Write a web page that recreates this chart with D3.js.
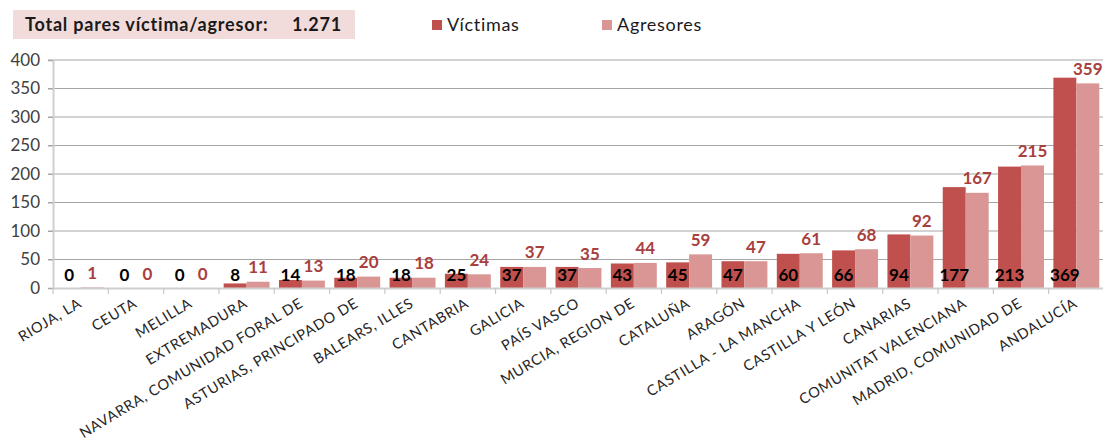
<!DOCTYPE html>
<html><head><meta charset="utf-8">
<script src="https://cdn.jsdelivr.net/npm/d3@7"></script>
<style>body{margin:0;background:#fff;} svg{display:block;font-family:Lato,"Noto Sans",sans-serif;}</style>
</head><body>
<svg id="c" width="1103" height="444"></svg>
<script>
const categories = ["RIOJA, LA","CEUTA","MELILLA","EXTREMADURA","NAVARRA, COMUNIDAD FORAL DE","ASTURIAS, PRINCIPADO DE","BALEARS, ILLES","CANTABRIA","GALICIA","PAÍS VASCO","MURCIA, REGION DE","CATALUÑA","ARAGÓN","CASTILLA - LA MANCHA","CASTILLA Y LEÓN","CANARIAS","COMUNITAT VALENCIANA","MADRID, COMUNIDAD DE","ANDALUCÍA"];
const victimas = [0,0,0,8,14,18,18,25,37,37,43,45,47,60,66,94,177,213,369];
const agresores = [1,0,0,11,13,20,18,24,37,35,44,59,47,61,68,92,167,215,359];
const yTicks = [0,50,100,150,200,250,300,350,400];
const seriesNames = ["Víctimas","Agresores"];
const titleText = "Total pares víctima/agresor:";
const totalText = "1.271";

(function(){
const colV = "#c0504d", colA = "#d99694", colALabel = "#a8403e";
const svg = d3.select("#c");
const mL = 53, mR = 1104, mT = 60, mB = 288;

const x0 = d3.scaleBand().domain(categories).range([mL, mR]).paddingInner(0.17).paddingOuter(0.085);
const x1 = d3.scaleBand().domain(seriesNames).range([0, x0.bandwidth()]);
const y = d3.scaleLinear().domain([0, 400]).range([mB, mT]);

svg.append("g").selectAll("line").data(yTicks.filter(d => d > 0)).join("line")
  .attr("x1", mL - 5).attr("x2", mR).attr("y1", d => y(d)).attr("y2", d => y(d))
  .attr("stroke", "#a6a6a6").attr("stroke-width", 1);

const yAxis = d3.axisLeft(y).tickValues(yTicks).tickSize(5).tickPadding(8);
const gy = svg.append("g").attr("transform", `translate(${mL},0)`).call(yAxis);
gy.select(".domain").attr("stroke", "#d0d0d0").attr("stroke-width", 2);
gy.selectAll(".tick line").attr("stroke", "#a6a6a6");
gy.selectAll("text").attr("font-size", 17).attr("fill", "#404040").attr("font-family", "Lato, sans-serif");

const groups = svg.append("g").selectAll("g").data(categories).join("g")
  .attr("transform", d => `translate(${x0(d)},0)`);
groups.append("rect").attr("x", x1("Víctimas")).attr("width", x1.bandwidth())
  .attr("y", (d, i) => y(victimas[i])).attr("height", (d, i) => y(0) - y(victimas[i])).attr("fill", colV);
groups.append("rect").attr("x", x1("Agresores")).attr("width", x1.bandwidth())
  .attr("y", (d, i) => y(agresores[i])).attr("height", (d, i) => y(0) - y(agresores[i])).attr("fill", colA);

const xAxis = d3.axisBottom(x0).tickSize(0).tickFormat("");
const gx = svg.append("g").attr("transform", `translate(0,${mB})`).call(xAxis);
gx.select(".domain").attr("stroke", "#d0d0d0").attr("stroke-width", 2);
const step = x0.step();
const bounds = d3.range(categories.length + 1).map(i => mL + i * step);
svg.append("g").selectAll("line").data(bounds).join("line")
  .attr("x1", d => d).attr("x2", d => d).attr("y1", mB).attr("y2", mB + 6)
  .attr("stroke", "#c8c8c8").attr("stroke-width", 1.2);

svg.append("g").selectAll("text").data(categories).join("text")
  .attr("transform", d => `translate(${x0(d) + x0.bandwidth() / 2 + 2},${mB + 18}) rotate(-31)`)
  .attr("text-anchor", "end").attr("font-size", 14.5).attr("letter-spacing", 0.7)
  .attr("fill", "#262626").text(d => d);

groups.append("text").attr("x", x1("Víctimas") + x1.bandwidth() / 2).attr("y", 281)
  .attr("text-anchor", "middle").attr("font-size", 17).attr("font-weight", "bold").attr("fill", "#000")
  .text((d, i) => victimas[i]);
groups.append("text").attr("x", x1("Agresores") + x1.bandwidth() / 2)
  .attr("y", (d, i) => Math.min(y(agresores[i]) - 8.5, 281))
  .attr("text-anchor", "middle").attr("font-size", 17).attr("font-weight", "bold").attr("fill", colALabel)
  .text((d, i) => agresores[i]);

svg.append("rect").attr("x", 13).attr("y", 10).attr("width", 342).attr("height", 29).attr("fill", "#f2dcdb");
svg.append("text").attr("x", 25).attr("y", 31).attr("font-size", 18).attr("letter-spacing", 0.8)
  .attr("font-weight", "bold").attr("fill", "#1a1a1a").text(titleText);
svg.append("text").attr("x", 292).attr("y", 31).attr("font-size", 18).attr("letter-spacing", 0.8)
  .attr("font-weight", "bold").attr("fill", "#1a1a1a").text(totalText);

const leg = [{n: seriesNames[0], c: colV, x: 432}, {n: seriesNames[1], c: colA, x: 602}];
const lg = svg.append("g").selectAll("g").data(leg).join("g").attr("transform", d => `translate(${d.x},0)`);
lg.append("rect").attr("x", 0).attr("y", 20).attr("width", 10).attr("height", 10).attr("fill", d => d.c);
lg.append("text").attr("x", 15).attr("y", 31).attr("font-size", 18).attr("letter-spacing", 0.7)
  .attr("fill", "#1a1a1a").text(d => d.n);
})();
</script>
</body></html>
